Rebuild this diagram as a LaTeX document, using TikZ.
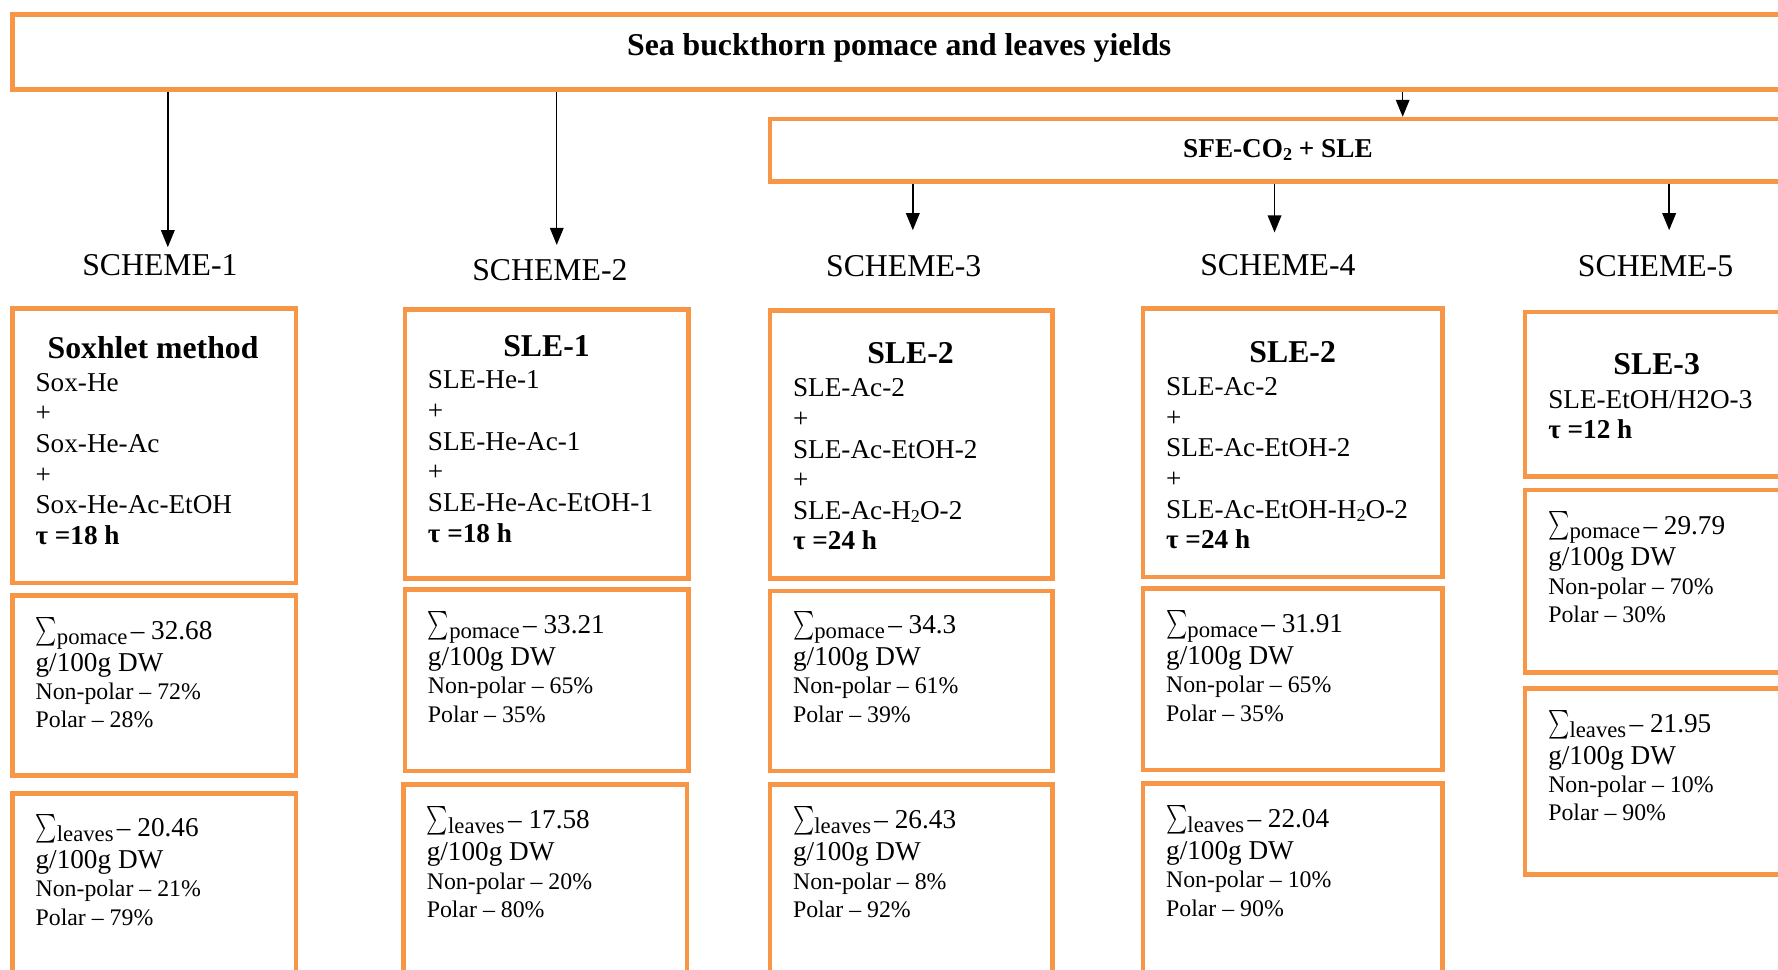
\documentclass[tikz,border=0pt]{standalone}
\usepackage{fontspec}
\setmainfont{Liberation Serif}
\usepackage{graphicx}
\usetikzlibrary{arrows.meta}
\definecolor{boxorange}{HTML}{F79646}
\tikzset{
  obox/.style={draw=boxorange, line width=2pt, rectangle, inner sep=0pt},
  arr/.style={-{Triangle[length=7.5pt,width=6pt]}, line width=0.6pt, black},
  headtxt/.style={font=\fontsize{14}{16}\selectfont\bfseries, inner sep=0pt, anchor=base},
  schemetxt/.style={font=\fontsize{14}{16}\selectfont, inner sep=0pt, anchor=base},
  bodytxt/.style={font=\fontsize{12}{14}\selectfont, inner sep=0pt, anchor=base west},
  smalltxt/.style={font=\fontsize{10.5}{12}\selectfont, inner sep=0pt, anchor=base west},
}
% orange frame given by its corners (x1,y1) (x2,y2)
\newcommand\orbox[5]{%
  \node[obox, minimum width={(#4-#2)*0.5pt}, minimum height={(#5-#3)*0.5pt}]
    (#1) at ({(#2+#4)/2},{(#3+#5)/2}) {};}
% small lowered index
\newcommand\subidx[1]{\raisebox{-0.25ex}{\fontsize{8}{9}\selectfont #1}}
% summation sign sitting slightly below the baseline
\newcommand\sumsign{\raisebox{-2.8pt}{\resizebox{9.4pt}{12.6pt}{\raisebox{\depth}{$\sum$}}}}
% yield block: name, x, first baseline, part, total, non-polar, polar
\newcommand\yieldtext[7]{%
  \node[bodytxt] (#1-s) at (#2,#3)
    {\sumsign\raisebox{-2pt}{\fontsize{10}{12}\selectfont #4}\hspace{1.5pt}– #5};
  \node[bodytxt] (#1-u) at (#2,{#3+28}) {g/100g DW};
  \node[smalltxt] (#1-n) at (#2,{#3+53}) {Non-polar – #6\%};
  \node[smalltxt] (#1-p) at (#2,{#3+78}) {Polar – #7\%};}
\begin{document}
\begin{tikzpicture}[x=0.5pt,y=-0.5pt]
\useasboundingbox (0,0) rectangle (1568,855);
\clip (0,0) rectangle (1568,855);

% top level
\orbox{top}{11}{13}{1640}{79}
\node[headtxt] (title) at (793,49) {Sea buckthorn pomace and leaves yields};
\orbox{sfe}{679}{105}{1640}{160}
\node[font=\fontsize{12}{14}\selectfont\bfseries, inner sep=0pt, anchor=base] (sfetxt) at (1127,139) {SFE-CO\subidx{2} + SLE};

% scheme labels
\node[schemetxt] (sch1) at (141,243) {SCHEME-1};
\node[schemetxt] (sch2) at (485,247) {SCHEME-2};
\node[schemetxt] (sch3) at (797,244) {SCHEME-3};
\node[schemetxt] (sch4) at (1127,243) {SCHEME-4};
\node[schemetxt] (sch5) at (1460,244) {SCHEME-5};

% arrow ends
\coordinate (e0) at (1237,0);
\coordinate (e1) at (148,218);
\coordinate (e2) at (491,216);
\coordinate (e3) at (805,203);
\coordinate (e4) at (1124,205);
\coordinate (e5) at (1472,203);
\draw[arr] (top.south -| e1) -- (e1);
\draw[arr] (top.south -| e2) -- (e2);
\draw[arr] (top.south -| e0) -- (sfe.north -| e0);
\draw[arr] (sfe.south -| e3) -- (e3);
\draw[arr] (sfe.south -| e4) -- (e4);
\draw[arr] (sfe.south -| e5) -- (e5);

% column frames
\orbox{m1}{11}{272}{261}{514}
\orbox{p1}{11}{525}{261}{684}
\orbox{l1}{11}{700}{261}{920}
\orbox{m2}{357}{273}{607}{510}
\orbox{p2}{357}{520}{607}{680}
\orbox{l2}{356}{692}{606}{920}
\orbox{m3}{679}{274}{928}{510}
\orbox{p3}{679}{521}{928}{680}
\orbox{l3}{679}{692}{928}{920}
\orbox{m4}{1008}{272}{1272}{509}
\orbox{p4}{1008}{519}{1272}{679}
\orbox{l4}{1008}{691}{1272}{920}
\orbox{m5}{1345}{275}{1640}{420}
\orbox{p5}{1345}{432}{1640}{593}
\orbox{l5}{1345}{607}{1640}{771}

% method descriptions
\node[headtxt] (m1-h) at (135,316) {Soxhlet method};
\foreach \t [count=\k] in {Sox-He,+,Sox-He-Ac,+,Sox-He-Ac-EtOH,\textbf{τ =18 h}}
  \node[bodytxt] (m1-\k) at (31,{345+27*(\k-1)}) {\t};
\node[headtxt] (m2-h) at (482,314) {SLE-1};
\foreach \t [count=\k] in {SLE-He-1,+,SLE-He-Ac-1,+,SLE-He-Ac-EtOH-1,\textbf{τ =18 h}}
  \node[bodytxt] (m2-\k) at (377,{343+27*(\k-1)}) {\t};
\node[headtxt] (m3-h) at (803,321) {SLE-2};
\foreach \t [count=\k] in {SLE-Ac-2,+,SLE-Ac-EtOH-2,+,SLE-Ac-H\subidx{2}O-2,\textbf{τ =24 h}}
  \node[bodytxt] (m3-\k) at (699,{350+27*(\k-1)}) {\t};
\node[headtxt] (m4-h) at (1140,320) {SLE-2};
\foreach \t [count=\k] in {SLE-Ac-2,+,SLE-Ac-EtOH-2,+,SLE-Ac-EtOH-H\subidx{2}O-2,\textbf{τ =24 h}}
  \node[bodytxt] (m4-\k) at (1028,{349+27*(\k-1)}) {\t};
\node[headtxt] (m5-h) at (1461,330) {SLE-3};
\foreach \t [count=\k] in {SLE-EtOH/H2O-3,\textbf{τ =12 h}}
  \node[bodytxt] (m5-\k) at (1365,{360+27*(\k-1)}) {\t};

% yields
\yieldtext{p1t}{31}{564}{pomace}{32.68}{72}{28}
\yieldtext{l1t}{31}{738}{leaves}{20.46}{21}{79}
\yieldtext{p2t}{377}{559}{pomace}{33.21}{65}{35}
\yieldtext{l2t}{376}{731}{leaves}{17.58}{20}{80}
\yieldtext{p3t}{699}{559}{pomace}{34.3}{61}{39}
\yieldtext{l3t}{699}{731}{leaves}{26.43}{8}{92}
\yieldtext{p4t}{1028}{558}{pomace}{31.91}{65}{35}
\yieldtext{l4t}{1028}{730}{leaves}{22.04}{10}{90}
\yieldtext{p5t}{1365}{471}{pomace}{29.79}{70}{30}
\yieldtext{l5t}{1365}{646}{leaves}{21.95}{10}{90}
\end{tikzpicture}
\end{document}
